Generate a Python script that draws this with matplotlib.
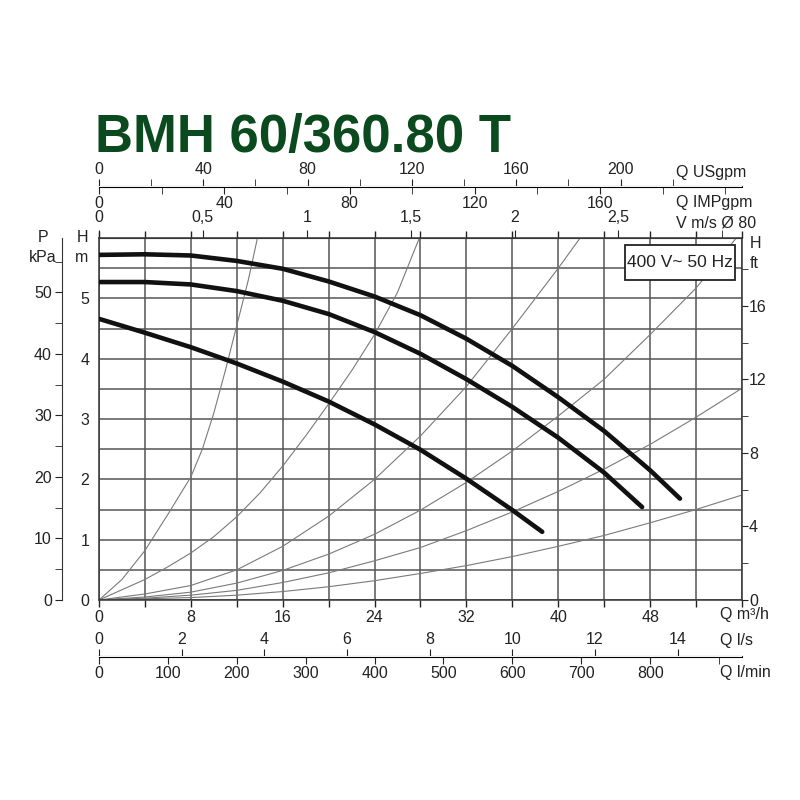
import matplotlib
matplotlib.use('Agg')
import matplotlib.pyplot as plt
from matplotlib.patches import Rectangle

plt.rcParams['font.family'] = ['Liberation Sans Narrow', 'Liberation Sans', 'DejaVu Sans']

# pump curves: Q in m3/h, H in m
q_high = [0, 4, 8, 12, 16, 20, 24, 28, 32, 36, 40, 44, 48, 50.6]
h_high = [5.72, 5.73, 5.71, 5.62, 5.49, 5.28, 5.03, 4.72, 4.33, 3.88, 3.36, 2.80, 2.15, 1.68]
q_mid = [0, 4, 8, 12, 16, 20, 24, 28, 32, 36, 40, 44, 47.3]
h_mid = [5.27, 5.27, 5.23, 5.12, 4.96, 4.74, 4.44, 4.08, 3.66, 3.20, 2.69, 2.11, 1.54]
q_low = [0, 4, 8, 12, 16, 20, 24, 28, 32, 36, 38.6]
h_low = [4.66, 4.43, 4.19, 3.92, 3.62, 3.29, 2.91, 2.49, 2.01, 1.49, 1.13]

# thin system curves, read at grid crossings
q_sys_a = [0, 2, 4, 6, 8, 9, 10, 11, 12, 13, 13.8]
h_sys_a = [0, 0.34, 0.82, 1.42, 2.04, 2.5, 3.1, 3.8, 4.55, 5.3, 6.0]
q_sys_b = [0, 2, 4, 6, 8, 10, 12, 14, 16, 18, 20, 22, 24, 26, 27.9]
h_sys_b = [0, 0.17, 0.34, 0.55, 0.78, 1.05, 1.38, 1.77, 2.22, 2.72, 3.25, 3.8, 4.4, 5.1, 6.0]
q_sys_c = [0, 4, 8, 12, 16, 20, 24, 28, 32, 36, 40, 41.9]
h_sys_c = [0, 0.1, 0.24, 0.5, 0.89, 1.39, 2.0, 2.72, 3.54, 4.5, 5.5, 6.0]
q_sys_d = [0, 4, 8, 12, 16, 20, 24, 28, 32, 36, 40, 44, 48, 52, 55.5]
h_sys_d = [0, 0.05, 0.13, 0.28, 0.49, 0.76, 1.09, 1.49, 1.95, 2.47, 3.05, 3.66, 4.4, 5.17, 6.0]
q_sys_e = [0, 4, 8, 12, 16, 20, 24, 28, 32, 36, 40, 44, 48, 52, 56]
h_sys_e = [0, 0.03, 0.08, 0.16, 0.29, 0.45, 0.65, 0.87, 1.15, 1.46, 1.8, 2.17, 2.58, 3.03, 3.51]
q_sys_f = [0, 4, 8, 12, 16, 20, 24, 28, 32, 36, 40, 44, 48, 52, 56]
h_sys_f = [0, 0.02, 0.04, 0.08, 0.14, 0.22, 0.32, 0.44, 0.57, 0.72, 0.89, 1.07, 1.28, 1.5, 1.74]

# scales
m3h_labels = [0, 8, 16, 24, 32, 40, 48]
h_labels = [0, 1, 2, 3, 4, 5]
kpa_labels = [0, 10, 20, 30, 40, 50]
ft_labels = [0, 4, 8, 12, 16]
usgpm_labels = [0, 40, 80, 120, 160, 200]
impgpm_labels = [0, 40, 80, 120, 160]
vel_labels = [0, 0.5, 1, 1.5, 2, 2.5]
ls_labels = [0, 2, 4, 6, 8, 10, 12, 14]
lmin_labels = [0, 100, 200, 300, 400, 500, 600, 700, 800]

W = H = 800
def fx(px):
    return px / W
def fy(py):
    return 1 - py / H

fs = 11.5
tc = '#222222'

fig = plt.figure(figsize=(8, 8), dpi=100)
x0, x1, y0, y1 = 99, 742, 600, 238
ax = fig.add_axes([fx(x0), fy(y0), fx(x1) - fx(x0), fy(y1) - fy(y0)])
ax.set_xlim(0, 56)
ax.set_ylim(0, 6)
ax.set_xticks(range(0, 57, 4))
ax.set_xticklabels([str(v) if v in m3h_labels else '' for v in range(0, 57, 4)])
ax.set_yticks([i * 0.5 for i in range(13)])
ax.set_yticklabels([str(int(v)) if v in h_labels else '' for v in [i * 0.5 for i in range(13)]])
ax.grid(True, color='#555555', lw=1.1)
ax.tick_params(axis='x', direction='out', length=5, width=1, top=True, bottom=True,
               labelsize=fs, pad=2, colors=tc)
ax.tick_params(axis='y', length=0, labelsize=fs, pad=7, colors=tc)
for s in ax.spines.values():
    s.set_color('#333333')
    s.set_linewidth(1.1)

for q, h in [(q_sys_a, h_sys_a), (q_sys_b, h_sys_b), (q_sys_c, h_sys_c),
             (q_sys_d, h_sys_d), (q_sys_e, h_sys_e), (q_sys_f, h_sys_f)]:
    ax.plot(q, h, color='#7a7a7a', lw=0.8, zorder=2)

for q, h in [(q_high, h_high), (q_mid, h_mid), (q_low, h_low)]:
    ax.plot(q, h, color='#111111', lw=3.3, solid_capstyle='round',
            solid_joinstyle='round', zorder=3)

# voltage box
bx0, bx1 = (625 - x0) / 11.482, (735 - x0) / 11.482
by0, by1 = (y0 - 280) / 60.33, (y0 - 245) / 60.33
ax.add_patch(Rectangle((bx0, by0), bx1 - bx0, by1 - by0, fc='white', ec='#222222',
                       lw=1.3, zorder=5))
ax.text((bx0 + bx1) / 2, (by0 + by1) / 2, '400 V~ 50 Hz', ha='center', va='center',
        fontsize=12.5, color=tc, zorder=6)

# kPa on the left
axp = ax.twinx()
axp.set_ylim(0, 6 * 9.80665)
axp.yaxis.set_ticks_position('left')
axp.yaxis.set_label_position('left')
axp.spines['left'].set_position(('outward', 27))
for k in ['right', 'top', 'bottom']:
    axp.spines[k].set_visible(False)
axp.spines['left'].set_color('#333333')
axp.set_yticks(kpa_labels)
axp.set_yticks([5, 15, 25, 35, 45, 55], minor=True)
axp.tick_params(axis='y', which='both', direction='out', length=5, labelsize=fs, pad=2, colors=tc)

# ft on the right
axf = ax.twinx()
axf.set_ylim(0, 6 / 0.3048)
for k in ['left', 'top', 'bottom', 'right']:
    axf.spines[k].set_visible(False)
axf.set_yticks(ft_labels)
axf.set_yticks([2, 6, 10, 14, 18], minor=True)
axf.tick_params(axis='y', which='both', direction='out', length=4, labelsize=fs, pad=1, colors=tc)

# top scales
loc_top = 1 + (y1 - 186.5) / (y0 - y1)
sec_us = ax.secondary_xaxis(loc_top, functions=(lambda q: q * 4.40287, lambda g: g / 4.40287))
sec_us.set_xticks(usgpm_labels)
sec_us.set_xticks(list(range(20, 241, 40)), minor=True)
sec_us.tick_params(which='both', direction='out', length=5, labelsize=fs, pad=2, colors=tc)
sec_us.spines['top'].set_color('#333333')

sec_imp = ax.secondary_xaxis(loc_top, functions=(lambda q: q * 3.66615, lambda g: g / 3.66615))
sec_imp.set_alignment('bottom')
sec_imp.set_xticks(impgpm_labels)
sec_imp.set_xticks(list(range(20, 201, 40)) + [200], minor=True)
sec_imp.tick_params(which='both', direction='out', length=5, labelsize=fs, pad=2, colors=tc)

sec_v = ax.secondary_xaxis('top', functions=(lambda q: q / 18.0956, lambda v: v * 18.0956))
sec_v.set_xticks(vel_labels)
sec_v.set_xticklabels([('%g' % v).replace('.', ',') for v in vel_labels])
sec_v.set_xticks([3.0], minor=True)
sec_v.tick_params(which='both', direction='out', length=6, labelsize=fs, pad=3, colors=tc)

# bottom scales
loc_bot = -(656.5 - y0) / (y0 - y1)
sec_ls = ax.secondary_xaxis(loc_bot, functions=(lambda q: q / 3.6, lambda l: l * 3.6))
sec_ls.set_alignment('top')
sec_ls.set_xticks(ls_labels)
sec_ls.tick_params(which='both', direction='out', length=5, labelsize=fs, pad=2, colors=tc)
sec_ls.spines['top'].set_color('#333333')

sec_lm = ax.secondary_xaxis(loc_bot, functions=(lambda q: q * 16.6667, lambda l: l / 16.6667))
sec_lm.set_xticks(lmin_labels)
sec_lm.set_xticks([900], minor=True)
sec_lm.tick_params(which='both', direction='out', length=5, labelsize=fs, pad=2, colors=tc)

# unit captions
for txt, px, py in [('Q USgpm', 676, 172.5), ('Q IMPgpm', 676, 202.5), ('V m/s Ø 80', 676, 223),
                    ('Q m³/h', 720, 615), ('Q l/s', 720, 640), ('Q l/min', 720, 673)]:
    fig.text(fx(px), fy(py), txt, ha='left', va='center', fontsize=fs, color=tc)
for txt, px, py in [('P', 43, 238), ('kPa', 43, 257), ('H', 82, 238), ('m', 82, 257)]:
    fig.text(fx(px), fy(py), txt, ha='center', va='center', fontsize=fs, color=tc)
for txt, py in [('H', 243), ('ft', 264)]:
    fig.text(fx(750), fy(py), txt, ha='left', va='center', fontsize=fs, color=tc)

fig.text(fx(95), fy(152), 'BMH 60/360.80 T', ha='left', va='baseline', fontsize=38,
         fontweight='bold', color='#0b4a1f', family=['Liberation Sans', 'DejaVu Sans'])

fig.savefig('out.png', dpi=100)
